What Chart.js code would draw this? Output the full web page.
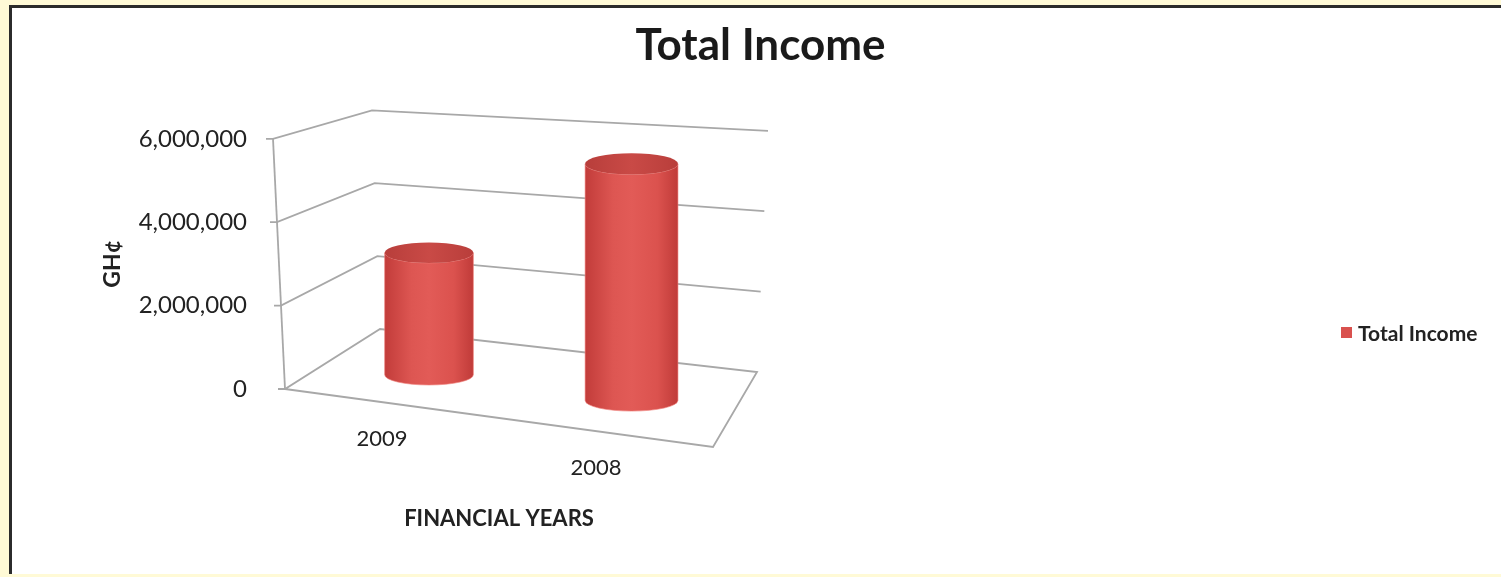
<!DOCTYPE html>
<html>
<head>
<meta charset="utf-8">
<script src="https://cdn.jsdelivr.net/npm/chart.js@4.4.1/dist/chart.umd.min.js"></script>
<style>
  body { margin: 0; background: #fffad6; width: 1501px; height: 577px; overflow: hidden; position: relative; font-family: Lato, sans-serif; }
  #frame { position: absolute; left: 9px; top: 5px; right: -10px; bottom: 3px; background: #fff; border-left: 3px solid #2b2b2b; border-top: 3px solid #2b2b2b; }
  #wrap { position: absolute; left: 0; top: 0; width: 1501px; height: 577px; }
  #legend { position: absolute; left: 1341px; top: 320px; font: bold 21px Lato, sans-serif; color: #222; display: flex; align-items: center; }
  #legend span.box { display: inline-block; width: 11px; height: 11px; margin-right: 6px; }
</style>
</head>
<body>
<div id="frame"></div>
<div id="wrap"><canvas id="income-chart"></canvas></div>
<div id="legend"></div>
<script>
// data
const categories = ["2009", "2008"];
const incomeValues = [3030000, 5610000];
const yTicks = [0, 2000000, 4000000, 6000000];
const seriesName = "Total Income";

Chart.defaults.font.family = "Lato, sans-serif";
Chart.defaults.color = "#222";

// pseudo 3d box: floor corners are offsets from chart area corners,
// height vectors are scaled copies of the front axis height
function makeView(chart) {
  const ca = chart.chartArea;
  const ys = chart.scales.y;
  const y0 = ys.getPixelForValue(ys.min);
  const hf = ys.getPixelForValue(ys.max) - y0;
  const floor = {
    fl: [ca.left, y0], fr: [ca.right, y0 + 58],
    bl: [ca.left + 95, y0 - 60], br: [ca.right + 44, y0 - 17]
  };
  const hv = {
    fl: [-12, hf], fr: [14, hf * 1.09],
    bl: [-8, hf * 0.874], br: [11, hf * 0.964]
  };
  function lerp2(c, u, d) {
    const fx = c.fl[0] + (c.fr[0] - c.fl[0]) * u, fy = c.fl[1] + (c.fr[1] - c.fl[1]) * u;
    const bx = c.bl[0] + (c.br[0] - c.bl[0]) * u, by = c.bl[1] + (c.br[1] - c.bl[1]) * u;
    return [fx + (bx - fx) * d, fy + (by - fy) * d];
  }
  return {
    P(u, d, h) {
      const f = lerp2(floor, u, d), v = lerp2(hv, u, d);
      return [f[0] + v[0] * h, f[1] + v[1] * h];
    },
    hlen(u, d) { const v = lerp2(hv, u, d); return Math.hypot(v[0], v[1]); },
    frac(v) { return (v - ys.min) / (ys.max - ys.min); },
    u(x) { return (x - ca.left) / (ca.right - ca.left); }
  };
}

const BAR_DEPTH = 0.45;

const box3d = {
  id: "box3d",
  beforeDatasetsDraw(chart) {
    const ctx = chart.ctx, view = makeView(chart);
    ctx.save();
    ctx.strokeStyle = "#a8a8a8";
    ctx.lineWidth = 1.8;
    chart.scales.y.ticks.forEach(t => {
      const h = view.frac(t.value);
      const a = view.P(0, 0, h), b = view.P(0, 1, h), c = view.P(1, 1, h);
      ctx.beginPath();
      ctx.moveTo(a[0] - 7, a[1]);
      ctx.lineTo(a[0], a[1]);
      ctx.lineTo(b[0], b[1]);
      ctx.lineTo(c[0], c[1]);
      if (h === 0) {
        const d = view.P(1, 0, 0);
        ctx.lineTo(d[0], d[1]);
        ctx.lineTo(a[0], a[1]);
      }
      ctx.stroke();
    });
    // front value axis
    const a0 = view.P(0, 0, 0), a1 = view.P(0, 0, 1);
    ctx.beginPath();
    ctx.moveTo(a0[0], a0[1]);
    ctx.lineTo(a1[0], a1[1]);
    ctx.stroke();
    ctx.restore();
  },
  beforeDatasetDraw(chart, args) {
    const ctx = chart.ctx, view = makeView(chart);
    const ds = chart.data.datasets[args.index];
    const ref = view.hlen(0.5, BAR_DEPTH);
    args.meta.data.forEach((el, i) => {
      const u = view.u(el.x);
      const h = view.frac(ds.data[i]);
      const B = view.P(u, BAR_DEPTH, 0);
      // cylinders stand upright: only the height is taken from the projection
      const T = [B[0], B[1] - view.hlen(u, BAR_DEPTH) * h];
      const rx = el.width / 2 * view.hlen(u, BAR_DEPTH) / ref;
      const ry = rx * 0.23;
      ctx.save();
      const g = ctx.createLinearGradient(B[0] - rx, 0, B[0] + rx, 0);
      g.addColorStop(0, "#c23c3a");
      g.addColorStop(0.3, "#dd5652");
      g.addColorStop(0.5, "#e25b57");
      g.addColorStop(0.78, "#db524e");
      g.addColorStop(1, "#c03b39");
      ctx.beginPath();
      ctx.moveTo(T[0] - rx, T[1]);
      ctx.lineTo(B[0] - rx, B[1]);
      ctx.ellipse(B[0], B[1], rx, ry, 0, Math.PI, 0, true);
      ctx.lineTo(T[0] + rx, T[1]);
      ctx.ellipse(T[0], T[1], rx, ry, 0, 0, Math.PI, false);
      ctx.closePath();
      ctx.fillStyle = g;
      ctx.fill();
      ctx.strokeStyle = "rgba(240,130,125,0.6)";
      ctx.lineWidth = 1;
      ctx.stroke();
      const gt = ctx.createLinearGradient(T[0] - rx, 0, T[0] + rx, 0);
      gt.addColorStop(0, "#b83e3b");
      gt.addColorStop(0.5, "#c94a46");
      gt.addColorStop(1, "#b93e3b");
      ctx.beginPath();
      ctx.ellipse(T[0], T[1], rx, ry, 0, 0, Math.PI * 2);
      ctx.fillStyle = gt;
      ctx.fill();
      ctx.restore();
    });
    return false;
  },
  afterDraw(chart) {
    const ctx = chart.ctx, view = makeView(chart), xs = chart.scales.x;
    ctx.save();
    ctx.font = "22px Lato, sans-serif";
    ctx.fillStyle = "#222";
    ctx.textAlign = "center";
    ctx.textBaseline = "middle";
    chart.data.labels.forEach((lab, i) => {
      const p = view.P(view.u(xs.getPixelForValue(i)), 0, 0);
      ctx.fillText(lab, p[0] - 10, p[1] + 35);
    });
    ctx.restore();
  }
};

const chart = new Chart(document.getElementById("income-chart"), {
  type: "bar",
  data: {
    labels: categories,
    datasets: [{
      label: seriesName,
      data: incomeValues,
      backgroundColor: "#d9514e",
      barPercentage: 0.53,
      categoryPercentage: 0.8
    }]
  },
  options: {
    responsive: true,
    maintainAspectRatio: false,
    animation: false,
    layout: { padding: { left: 20, right: 0, top: 0, bottom: 0 } },
    plugins: {
      legend: { display: false },
      tooltip: { enabled: false },
      title: {
        display: true,
        text: "Total Income",
        color: "#1a1a1a",
        font: { size: 44, weight: "bold" },
        padding: { top: 19, bottom: 67 }
      }
    },
    scales: {
      x: {
        grid: { display: false },
        border: { display: false },
        ticks: { display: false },
        title: {
          display: true,
          text: "FINANCIAL YEARS",
          color: "#222",
          font: { size: 22, weight: "bold" },
          padding: { top: 0, bottom: 45 }
        },
        afterFit(s) { s.height = 577 - 389; }
      },
      y: {
        min: 0,
        max: 6000000,
        grid: { display: false, drawTicks: false },
        border: { display: false },
        afterBuildTicks(s) { s.ticks = yTicks.map(v => ({ value: v })); },
        ticks: {
          padding: 38,
          font: { size: 24 },
          color: "#222",
          callback: v => v.toLocaleString("en-US")
        },
        title: {
          display: true,
          text: "GH¢",
          color: "#222",
          font: { size: 23, weight: "bold" },
          padding: { top: 79, bottom: 0 }
        },
        afterFit(s) { s.width = 285 - 20; }
      },
      pad: {
        type: "linear",
        position: "right",
        grid: { display: false },
        border: { display: false },
        ticks: { display: false },
        afterFit(s) { s.width = 1501 - 713; }
      }
    }
  },
  plugins: [box3d]
});

// legend from the dataset
const lg = document.getElementById("legend");
chart.data.datasets.forEach(ds => {
  const b = document.createElement("span");
  b.className = "box";
  b.style.background = ds.backgroundColor;
  lg.appendChild(b);
  lg.appendChild(document.createTextNode(ds.label));
});
</script>
</body>
</html>
